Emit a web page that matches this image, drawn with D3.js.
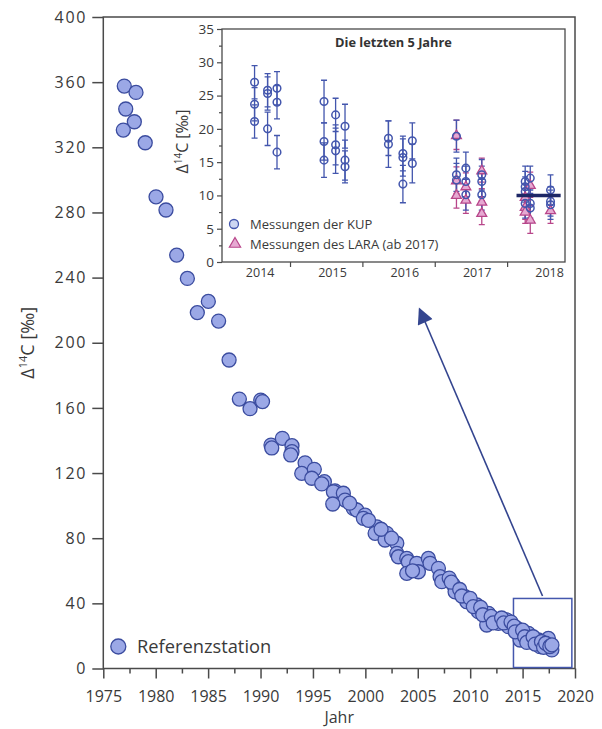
<!DOCTYPE html>
<html><head><meta charset="utf-8">
<script src="https://cdn.jsdelivr.net/npm/d3@7"></script>
<style>body{margin:0;background:#fff}svg{display:block;font-family:"Open Sans",sans-serif}</style>
</head><body><svg id="c" width="602" height="729"></svg>
<script>
// ---- main chart data (Referenzstation) ----
const mainYears = [1977.0,1978.12,1977.14,1977.96,1976.91,1979.0,1980.03,1980.98,1982.0,1983.02,1983.97,1985.02,1986.0,1987.0,1987.98,1989.0,1990.02,1990.19,1991.0,1991.07,1992.08,1993.0,1993.0,1992.88,1994.25,1993.93,1995.13,1994.89,1996.09,1995.84,1997.1,1996.95,1997.9,1998.06,1996.89,1998.85,1999.18,1999.97,1999.81,2001.09,2000.93,2002.04,2001.88,2003.0,2003.0,2003.15,2003.95,2004.1,2003.95,2004.9,2005.06,2006.01,2006.17,2006.97,2007.13,2007.29,2008.4,2008.56,2009.51,2009.68,2010.63,2010.78,2011.74,2011.58,2012.54,2012.69,2013.49,2013.65,2014.45,2014.6,2014.76,2015.55,2015.72,2016.51,2016.67,2017.46,2017.79,
 2008.0,2008.2,2009.0,2009.2,2010.0,2010.3,2011.0,2011.2,2012.0,2012.2,2013.0,2013.2,2013.9,2014.2,2014.3,2015.0,2015.2,2015.4,2016.0,2016.2,2016.8,2017.0,2017.2,2017.6,2017.8,2001.5,2002.5,2000.3,1998.5,2004.5];
const mainValues = [357.6,353.7,343.5,335.7,330.6,322.8,289.6,281.5,253.8,239.5,218.5,225.4,213.3,189.4,165.4,159.5,164.8,163.9,137.2,135.4,141.3,136.8,133.1,131.1,126.3,119.8,122.3,116.8,114.7,113.3,109.1,108.5,107.6,103.4,101.0,98.3,97.3,94.2,92.2,87.0,83.0,83.0,78.9,76.9,70.7,68.6,67.6,65.6,58.4,64.6,59.4,67.6,64.6,61.5,56.4,53.3,51.3,47.1,44.1,41.0,39.0,34.9,33.9,26.7,29.8,27.7,29.8,25.7,24.7,21.6,17.5,21.6,17.5,17.5,13.4,18.5,11.4,
 55.5,53.0,48.5,44.5,43.0,38.0,37.5,33.0,32.0,28.0,31.0,28.0,28.5,26.0,22.5,23.5,19.5,16.0,19.5,15.0,16.5,13.0,15.5,13.5,14.5,85.5,80.0,91.0,101.5,60.0];
const mainXTicks = [1975,1980,1985,1990,1995,2000,2005,2010,2015,2020];
const mainYTicks = [0,40,80,120,160,200,240,280,320,360,400];
const zoomBox = [2014.13, 2019.7, 0.6, 43]; // x0,x1,y0,y1 in data units
const arrowFromTo = [[2016.9, 44.5],[2005.17, 220.7]];

// ---- inset data (Die letzten 5 Jahre) ----
const kupX = [2014.51,2014.51,2014.51,2014.69,2014.69,2014.69,2014.82,2014.82,2014.82,
 2015.47,2015.47,2015.47,2015.63,2015.63,2015.63,2015.76,2015.76,2015.76,
 2016.36,2016.36,2016.56,2016.56,2016.56,2016.69,2016.69,
 2017.30,2017.30,2017.30,2017.43,2017.43,2017.43,2017.65,2017.65,2017.65,
 2018.25,2018.25,2018.25,2018.25,2018.32,2018.32,2018.32,2018.60,2018.60,2018.60];
const kupY = [27.0,23.7,21.1,25.8,25.3,20.0,26.1,24.0,16.5,
 24.1,18.1,15.3,22.1,17.6,16.7,20.4,15.3,14.3,
 18.6,17.7,16.3,15.7,11.7,18.2,14.8,
 18.9,13.1,12.3,14.1,12.1,10.1,13.1,12.1,10.1,
 12.1,11.3,10.6,8.8,12.6,8.8,8.1,10.8,9.1,8.6];
const kupErr = [2.5,2.5,2.5,2.5,2.5,2.5,2.5,2.5,2.5,
 3.2,2.8,2.6,2.5,3.0,3.4,3.3,3.0,2.4,
 2.6,3.5,2.6,2.8,2.8,2.7,2.9,
 2.4,2.5,2.5,2.4,2.3,2.3,2.3,2.3,2.3,
 2.3,2.3,2.2,2.2,1.8,2.2,2.2,2.3,2.2,2.2];
const laraX = [2017.30,2017.30,2017.30,2017.43,2017.43,2017.65,2017.65,2017.65,
 2018.25,2018.25,2018.25,2018.32,2018.32,2018.60];
const laraY = [19.1,12.3,10.1,11.4,9.4,13.8,9.1,7.4,9.8,8.3,7.6,11.6,6.4,7.8];
const laraErr = [2.2,2.0,2.0,2.0,2.1,1.8,1.9,1.8,1.9,1.9,1.8,1.9,2.1,2.0];
const mean2018 = [2018.13, 2018.74, 10.0];
const insetYears = [2014,2015,2016,2017,2018];
const insetYTicks = [0,5,10,15,20,25,30,35];

const svg = d3.select('#c');
const axisCol = '#4a4a4a', textCol = '#3a3a3a';

// ---------- main chart ----------
const x = d3.scaleLinear().domain([1975,2020]).range([103.3,575]);
const y = d3.scaleLinear().domain([0,400]).range([668.5,17]);

// frame
svg.append('rect').attr('x',x(1975)).attr('y',y(400)).attr('width',x(2020)-x(1975)).attr('height',y(0)-y(400))
  .attr('fill','none').attr('stroke',axisCol).attr('stroke-width',1.5);

// x axis major + minor ticks
const gx = svg.append('g').attr('transform',`translate(0,${y(0)})`);
gx.call(d3.axisBottom(x).tickValues(d3.range(1977.5,2020,5)).tickSize(5).tickFormat(''))
gx.call(g=>{});
const gx2 = svg.append('g').attr('transform',`translate(0,${y(0)})`)
  .call(d3.axisBottom(x).tickValues(mainXTicks).tickSize(10).tickPadding(12).tickFormat(d3.format('d')));
[gx,gx2].forEach(g=>{g.select('.domain').remove();g.selectAll('line').attr('stroke',axisCol).attr('stroke-width',1.5);
  g.selectAll('text').attr('fill',textCol).attr('font-size',16).attr('font-family','"Open Sans",sans-serif');});

const gy = svg.append('g').attr('transform',`translate(${x(1975)},0)`)
  .call(d3.axisLeft(y).tickValues(mainYTicks).tickSize(11).tickPadding(5));
gy.select('.domain').remove();
gy.selectAll('line').attr('stroke',axisCol).attr('stroke-width',1.5);
gy.selectAll('text').attr('fill',textCol).attr('font-size',16).attr('letter-spacing','1.8px').attr('font-family','"Open Sans",sans-serif');

// axis titles
svg.append('text').attr('x',(x(1975)+x(2020))/2).attr('y',723).attr('text-anchor','middle')
  .attr('font-size',16).attr('fill',textCol).text('Jahr');
const yt = svg.append('text').attr('transform',`translate(34,${(y(0)+y(400))/2}) rotate(-90)`)
  .attr('text-anchor','middle').attr('font-size',18).attr('fill',textCol);
yt.append('tspan').text('Δ');
yt.append('tspan').attr('font-size',11).attr('dy',-7).text('14');
yt.append('tspan').attr('dy',7).text('C [‰]');

// zoom box
svg.append('rect').attr('x',x(zoomBox[0])).attr('y',y(zoomBox[3])).attr('width',x(zoomBox[1])-x(zoomBox[0]))
  .attr('height',y(zoomBox[2])-y(zoomBox[3])).attr('fill','none').attr('stroke','#4457ad').attr('stroke-width',1.5);

// points
const mainPts = mainYears.map((d,i)=>({yr:d,v:mainValues[i]}));
svg.append('g').selectAll('circle').data(mainPts).join('circle')
  .attr('cx',d=>x(d.yr)).attr('cy',d=>y(d.v)).attr('r',7)
  .attr('fill','#9ba8e6').attr('stroke','#3b4c9f').attr('stroke-width',1.3);

// arrow
svg.append('defs').append('marker').attr('id','ah').attr('viewBox','0 0 10 10').attr('refX',9).attr('refY',5)
  .attr('markerWidth',7).attr('markerHeight',7).attr('orient','auto').attr('markerUnits','userSpaceOnUse')
  .append('path').attr('d','M0,0 L10,5 L0,10 Z').attr('fill','#34458f');
d3.select('marker').attr('markerWidth',20).attr('markerHeight',16);
svg.append('line').attr('x1',x(arrowFromTo[0][0])).attr('y1',y(arrowFromTo[0][1]))
  .attr('x2',x(arrowFromTo[1][0])).attr('y2',y(arrowFromTo[1][1]))
  .attr('stroke','#34458f').attr('stroke-width',1.6).attr('marker-end','url(#ah)');

// main legend
svg.append('circle').attr('cx',118.3).attr('cy',646.5).attr('r',7.5).attr('fill','#9ba8e6').attr('stroke','#3b4c9f').attr('stroke-width',1.3);
svg.append('text').attr('x',137).attr('y',653).attr('font-size',18.3).attr('fill',textCol).text('Referenzstation');

// ---------- inset ----------
const xi = d3.scaleLinear().domain([2014.06,2018.8]).range([222,565]);
const yi = d3.scaleLinear().domain([0,35]).range([262,29]);
svg.append('rect').attr('x',xi.range()[0]).attr('y',yi(35)).attr('width',xi.range()[1]-xi.range()[0])
  .attr('height',yi(0)-yi(35)).attr('fill','#fff').attr('stroke',axisCol).attr('stroke-width',1.3);

const giy = svg.append('g').attr('transform',`translate(${xi.range()[0]},0)`)
  .call(d3.axisLeft(yi).tickValues(d3.range(2.5,35,5)).tickSize(3).tickFormat(''));
const giy2 = svg.append('g').attr('transform',`translate(${xi.range()[0]},0)`)
  .call(d3.axisLeft(yi).tickValues(insetYTicks).tickSize(5).tickPadding(3));
[giy,giy2].forEach(g=>{g.select('.domain').remove();g.selectAll('line').attr('stroke',axisCol).attr('stroke-width',1.2);
  g.selectAll('text').attr('fill',textCol).attr('font-size',13.5).attr('font-family','"Open Sans",sans-serif');});
const gix = svg.append('g').attr('transform',`translate(0,${yi(0)})`)
  .call(d3.axisBottom(xi).tickValues(insetYears.slice(1)).tickSize(5).tickFormat(''));
const gix2 = svg.append('g').attr('transform',`translate(0,${yi(0)})`)
  .call(d3.axisBottom(xi).tickValues(insetYears.map(d=>d+0.58)).tickSize(0).tickPadding(6).tickFormat((d,i)=>insetYears[i]));
[gix,gix2].forEach(g=>{g.select('.domain').remove();g.selectAll('line').attr('stroke',axisCol).attr('stroke-width',1.2);
  g.selectAll('text').attr('fill',textCol).attr('font-size',12.5).attr('font-family','"Open Sans",sans-serif');});

svg.append('text').attr('x',393.5).attr('y',46.5).attr('text-anchor','middle').attr('font-size',12.8)
  .attr('font-weight','bold').attr('fill','#333').text('Die letzten 5 Jahre');
const yti = svg.append('text').attr('transform',`translate(188,${(yi(0)+yi(35))/2-4}) rotate(-90)`)
  .attr('text-anchor','middle').attr('font-size',16).attr('fill',textCol);
yti.append('tspan').text('Δ');
yti.append('tspan').attr('font-size',10).attr('dy',-6).text('14');
yti.append('tspan').attr('dy',6).text('C [‰]');

const blue = '#4356ad', pink = '#b8468a', pinkFill = '#e6a9d2';
function errbars(g, xs, ys, es, col){
  const pts = xs.map((d,i)=>({x:d,y:ys[i],e:es[i]}));
  const gg = g.append('g').attr('stroke',col).attr('stroke-width',1.3).attr('fill','none');
  gg.selectAll('path').data(pts).join('path').attr('d',d=>{
    const cx=xi(d.x), t=yi(d.y+d.e), b=yi(d.y-d.e);
    return `M${cx},${t}V${b}M${cx-3},${t}H${cx+3}M${cx-3},${b}H${cx+3}`;});
  return pts;
}
const ig = svg.append('g');
const laraPts = errbars(ig, laraX, laraY, laraErr, pink);
const kupPts = errbars(ig, kupX, kupY, kupErr, blue);
const tri = d3.symbol().type(d3.symbolTriangle).size(42);
ig.append('g').selectAll('path').data(laraPts).join('path').attr('d',tri)
  .attr('transform',d=>`translate(${xi(d.x)},${yi(d.y)+0.8})`).attr('fill',pinkFill).attr('stroke',pink).attr('stroke-width',1.3);
ig.append('g').selectAll('circle').data(kupPts).join('circle')
  .attr('cx',d=>xi(d.x)).attr('cy',d=>yi(d.y)).attr('r',3.8).attr('fill','none').attr('stroke',blue).attr('stroke-width',1.5);
ig.append('line').attr('x1',xi(mean2018[0])).attr('x2',xi(mean2018[1])).attr('y1',yi(mean2018[2])).attr('y2',yi(mean2018[2]))
  .attr('stroke','#1d2766').attr('stroke-width',3.5);

// inset legend
svg.append('circle').attr('cx',234).attr('cy',224).attr('r',4.5).attr('fill','#cdd6f2').attr('stroke',blue).attr('stroke-width',1.3);
svg.append('path').attr('d',d3.symbol().type(d3.symbolTriangle).size(55)).attr('transform','translate(235,244)')
  .attr('fill',pinkFill).attr('stroke',pink).attr('stroke-width',1.2);
svg.append('text').attr('x',250).attr('y',229).attr('font-size',13).attr('fill',textCol).text('Messungen der KUP');
svg.append('text').attr('x',250).attr('y',248.5).attr('font-size',13).attr('fill',textCol).text('Messungen des LARA (ab 2017)');
</script></body></html>
